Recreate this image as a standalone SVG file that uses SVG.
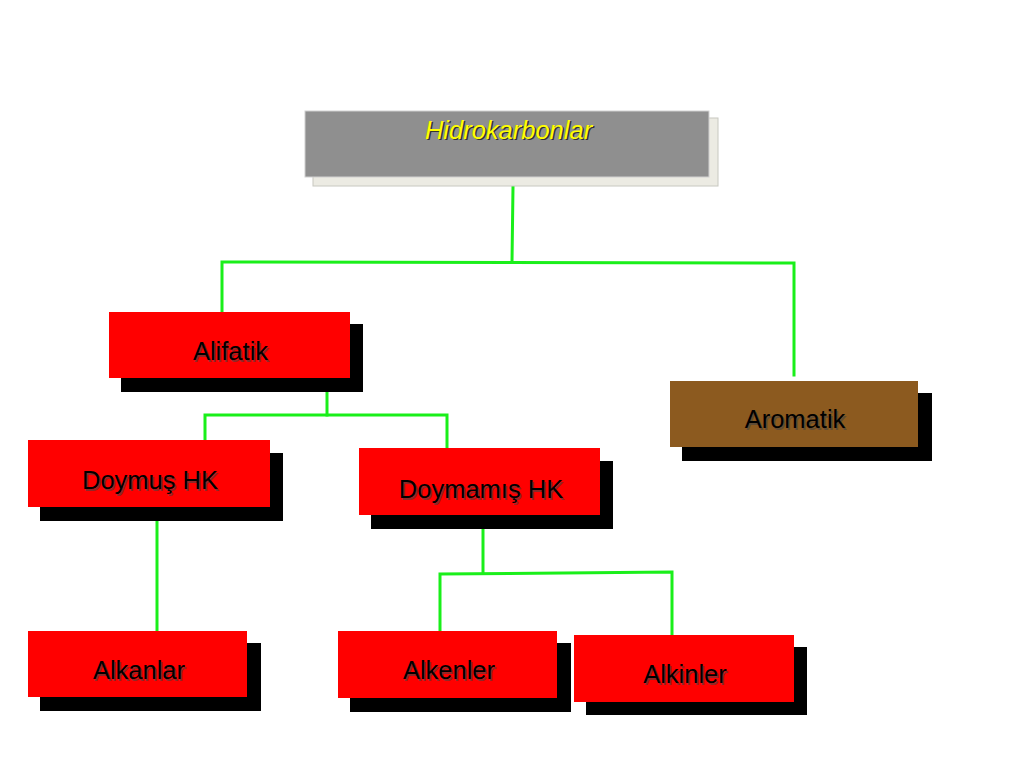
<svg xmlns="http://www.w3.org/2000/svg" width="1024" height="768" viewBox="0 0 1024 768">
<style>
.sh{fill:#000}
.red{fill:#ff0000}
.lbl{font-family:"Liberation Sans",Arial,sans-serif;font-size:25.5px;text-anchor:middle;fill:#000}
.lshadow{font-family:"Liberation Sans",Arial,sans-serif;font-size:25.5px;text-anchor:middle;fill:#444;opacity:0.6}
.con{stroke:#1aef1a;stroke-width:3;fill:none;stroke-linecap:square}
</style>
<rect width="1024" height="768" fill="#fff"/>
<g id="connectors">
<polyline class="con" points="513,187 512,262"/>
<polyline class="con" points="222,311 222,262 794,263 794,375"/>
<polyline class="con" points="327,377 327,415"/>
<polyline class="con" points="205,439 205,415 447,415 447,447"/>
<polyline class="con" points="157,522 157,631"/>
<polyline class="con" points="483,530 483,573"/>
<polyline class="con" points="440,632 440,574 672,572 672,634"/>
</g>
<g id="hidrokarbonlar">
<rect x="313" y="118" width="405" height="68" fill="#ecebe3" stroke="#c8c8c0" stroke-width="1"/>
<rect x="305" y="111" width="404" height="66" fill="#8f8f8f" stroke="#d0d0d0" stroke-width="1"/>
<text x="510" y="140" font-family="Liberation Sans,Arial,sans-serif" font-size="25.5" font-style="italic" text-anchor="middle" fill="#333">Hidrokarbonlar</text>
<text x="508.5" y="138.5" font-family="Liberation Sans,Arial,sans-serif" font-size="25.5" font-style="italic" text-anchor="middle" fill="#ffff00">Hidrokarbonlar</text>
</g>
<g id="alifatik">
<rect class="sh" x="121" y="324" width="242" height="68"/>
<rect class="red" x="109" y="312" width="241" height="66"/>
<text class="lshadow" x="232" y="361.5">Alifatik</text>
<text class="lbl" x="230.5" y="360">Alifatik</text>
</g>
<g id="aromatik">
<rect class="sh" x="682" y="393" width="250" height="68"/>
<rect x="670" y="381" width="248" height="66" fill="#8c5a1f"/>
<text class="lshadow" x="796.5" y="429.5">Aromatik</text>
<text class="lbl" x="795" y="428">Aromatik</text>
</g>
<g id="doymus">
<rect class="sh" x="40" y="453" width="243" height="68"/>
<rect class="red" x="28" y="440" width="242" height="67"/>
<text class="lshadow" x="151.5" y="490.5">Doymuş HK</text>
<text class="lbl" x="150" y="489">Doymuş HK</text>
</g>
<g id="doymamis">
<rect class="sh" x="371" y="461" width="242" height="68"/>
<rect class="red" x="359" y="448" width="241" height="67"/>
<text class="lshadow" x="482.5" y="499.5">Doymamış HK</text>
<text class="lbl" x="481" y="498">Doymamış HK</text>
</g>
<g id="alkanlar">
<rect class="sh" x="40" y="643" width="221" height="68"/>
<rect class="red" x="28" y="631" width="219" height="66"/>
<text class="lshadow" x="140.5" y="680.5">Alkanlar</text>
<text class="lbl" x="139" y="679">Alkanlar</text>
</g>
<g id="alkenler">
<rect class="sh" x="350" y="643" width="221" height="69"/>
<rect class="red" x="338" y="631" width="219" height="67"/>
<text class="lshadow" x="450.5" y="680.5">Alkenler</text>
<text class="lbl" x="449" y="679">Alkenler</text>
</g>
<g id="alkinler">
<rect class="sh" x="586" y="647" width="221" height="68"/>
<rect class="red" x="574" y="635" width="220" height="67"/>
<text class="lshadow" x="686.5" y="684.5">Alkinler</text>
<text class="lbl" x="685" y="683">Alkinler</text>
</g>
</svg>
